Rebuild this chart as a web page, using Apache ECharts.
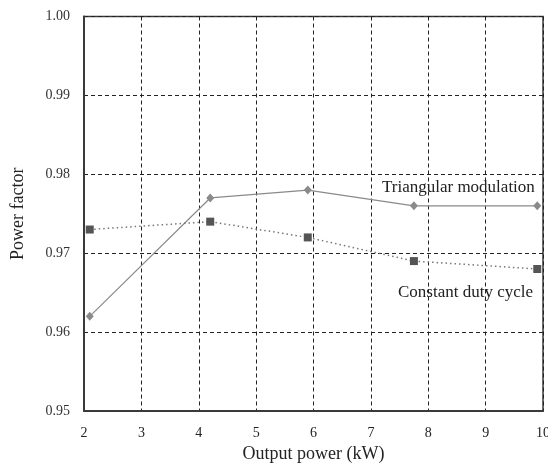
<!DOCTYPE html>
<html>
<head>
<meta charset="utf-8">
<script src="https://cdn.jsdelivr.net/npm/echarts@6/dist/echarts.min.js"></script>
<style>
  html, body { margin: 0; padding: 0; background: #fff; }
  #chart { width: 548px; height: 465px; }
</style>
</head>
<body>
<div id="chart"></div>
<script>
// Output power (kW) for each measurement
const powerKW = [2.1, 4.2, 5.9, 7.75, 9.9];
// Power factor with triangular modulation
const pfTriangular = [0.962, 0.977, 0.978, 0.976, 0.976];
// Power factor with constant duty cycle
const pfConstant = [0.973, 0.974, 0.972, 0.969, 0.968];
const yTicks = [0.95, 0.96, 0.97, 0.98, 0.99, 1.00];

const font = '"Liberation Serif", "DejaVu Serif", serif';
const chart = echarts.init(document.getElementById('chart'), null, { renderer: 'canvas' });

const pairs = (xs, ys) => xs.map((x, i) => [x, ys[i]]);

chart.setOption({
  animation: false,
  backgroundColor: '#fff',
  grid: {
    left: 84, top: 16.5, right: 5, bottom: 54,
    outerBoundsMode: 'none', containLabel: false,
    show: true, borderColor: '#3a3a3a', borderWidth: 1.5
  },
  xAxis: {
    type: 'value', min: 2, max: 10, interval: 1,
    name: 'Output power (kW)', nameLocation: 'middle', nameGap: 33,
    nameTextStyle: { fontFamily: font, fontSize: 18, color: '#222' },
    axisLine: { show: true, lineStyle: { color: '#3a3a3a', width: 2 } },
    axisTick: { show: false },
    axisLabel: { fontFamily: font, fontSize: 14, color: '#222', margin: 15 },
    splitLine: { show: true, lineStyle: { color: '#222', type: [4, 3], width: 1 } }
  },
  yAxis: {
    type: 'value', min: yTicks[0], max: yTicks[yTicks.length - 1], interval: 0.01,
    name: 'Power factor', nameLocation: 'middle', nameGap: 57,
    nameTextStyle: { fontFamily: font, fontSize: 18, color: '#222' },
    axisLine: { show: true, lineStyle: { color: '#3a3a3a', width: 2 } },
    axisTick: { show: false },
    axisLabel: { fontFamily: font, fontSize: 14, color: '#333', margin: 14,
      formatter: v => v.toFixed(2) },
    splitLine: { show: true, lineStyle: { color: '#222', type: [4, 3], width: 1 } }
  },
  series: [
    {
      name: 'Triangular modulation', type: 'line',
      data: pairs(powerKW, pfTriangular),
      symbol: 'diamond', symbolSize: [8, 9],
      itemStyle: { color: '#8a8a8a' },
      lineStyle: { color: '#8a8a8a', width: 1.2 },
      z: 3
    },
    {
      name: 'Constant duty cycle', type: 'line',
      data: pairs(powerKW, pfConstant),
      symbol: 'rect', symbolSize: 8,
      itemStyle: { color: '#555' },
      lineStyle: { color: '#777', width: 1.5, type: [1.5, 3] },
      z: 4
    }
  ],
  graphic: [
    { type: 'text', left: 382, top: 179,
      style: { text: 'Triangular modulation', font: '17px ' + font, fill: '#222' } },
    { type: 'text', left: 398, top: 284,
      style: { text: 'Constant duty cycle', font: '17px ' + font, fill: '#222' } }
  ]
});
</script>
</body>
</html>
